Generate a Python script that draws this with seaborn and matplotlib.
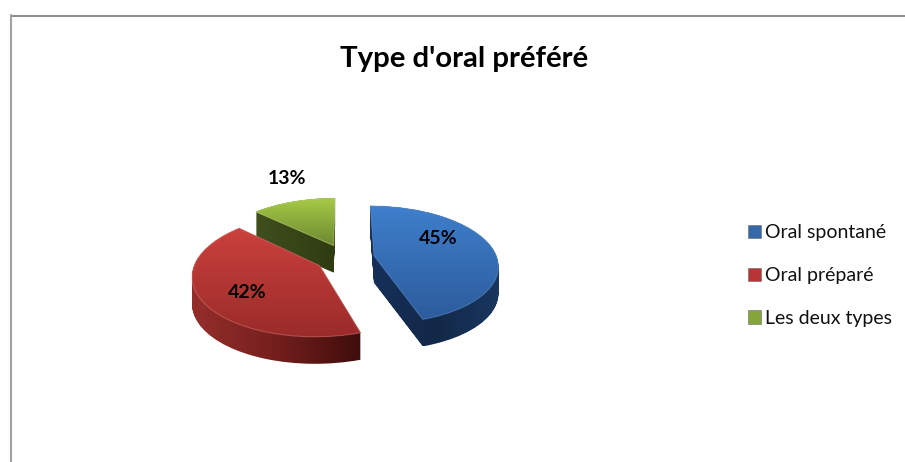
import matplotlib
matplotlib.use("Agg")
import matplotlib.pyplot as plt
import numpy as np
import seaborn as sns
from matplotlib.patches import Patch, PathPatch
from matplotlib.path import Path
from matplotlib.transforms import Transform

categories = ["Oral spontané", "Oral préparé", "Les deux types"]
shares = [45, 42, 13]
title = "Type d'oral préféré"

top_colors = [["#3f7fcc", "#2c5c9c"], ["#cb413d", "#992b29"], ["#a6ca46", "#6c8832"]]
side_colors = [["#16305a", "#122848", "#193760"], ["#962f2c", "#751f1d", "#3e0d0b"], ["#404f1e", "#2e3b10"]]
rim_colors = ["#6f9ad2", "#e88a86", "#cfe08f"]
legend_colors = ["#3568a8", "#b83533", "#83a53a"]
label_pos = [(438.5, 239), (247, 292.5), (287.5, 178.5)]


# tilts the flat pie, the far side gets smaller
class Tilt(Transform):
    input_dims = 2
    output_dims = 2
    is_separable = False

    def transform_non_affine(self, values):
        values = np.asarray(values, dtype=float)
        w = 1 + 0.15 * values[:, 1]
        return np.column_stack([345 + 123 * values[:, 0] / w, 258 - 58 * values[:, 1] / w])


sns.set_theme(style="white")
plt.rcParams["font.family"] = ["Lato", "DejaVu Sans"]

fig = plt.figure(figsize=(9.05, 4.62), dpi=100, facecolor="white")
ax = fig.add_axes([0, 0, 1, 1])

wedges, _ = ax.pie(shares, explode=[0.24] * 3, startangle=90, counterclock=False, frame=True,
                   colors=[c[1] for c in top_colors], wedgeprops={"linewidth": 0})
tilt = Tilt()
depth = 27

# back slice first so the nearer ones sit on top
for z, i in enumerate([2, 1, 0]):
    w = wedges[i]
    w.set_transform(tilt + ax.transData)
    w.set_zorder(2 + 2 * z + 0.2)
    flat = tilt.transform_path(w.get_path())

    layers = [Path(flat.vertices + [0, d], flat.codes) for d in range(depth + 1)]
    side = Path.make_compound_path(*layers)
    x0, y0 = side.vertices.min(axis=0)
    x1, y1 = side.vertices.max(axis=0)
    side_img = ax.imshow(np.linspace(0, 1, 256).reshape(1, -1), extent=(x0, x1, y1, y0), aspect="auto",
                         cmap=sns.blend_palette(side_colors[i], as_cmap=True), zorder=2 + 2 * z)
    side_img.set_clip_path(side, transform=ax.transData)

    top_img = ax.imshow(np.linspace(0, 1, 256).reshape(-1, 1),
                        extent=(flat.vertices[:, 0].min(), flat.vertices[:, 0].max(),
                                flat.vertices[:, 1].max(), flat.vertices[:, 1].min()),
                        aspect="auto", cmap=sns.blend_palette(top_colors[i], as_cmap=True),
                        zorder=2 + 2 * z + 0.4)
    top_img.set_clip_path(flat, transform=ax.transData)
    ax.add_patch(PathPatch(flat, facecolor="none", edgecolor=rim_colors[i], linewidth=0.8, alpha=0.4,
                           zorder=2 + 2 * z + 0.6))

ax.set_aspect("auto")
ax.set_xlim(0, 905)
ax.set_ylim(462, 0)
ax.axis("off")

# chart frame, cut off by the crop on the right and at the bottom
ax.plot([10.5, 905], [15.5, 15.5], color="#8e8e8e", lw=1.5, zorder=1)
ax.plot([10.5, 10.5], [462, 15], color="#a2a2a2", lw=1.5, zorder=1)

ax.text(464, 58.5, title, ha="center", va="center", fontsize=21.2, fontweight="bold", color="black", zorder=20)
for share, (x, y) in zip(shares, label_pos):
    ax.text(x, y, f"{share}%", ha="center", va="center", fontsize=14, fontweight="bold", color="black", zorder=20)

handles = [Patch(facecolor=c, edgecolor="#55555588", linewidth=0.6) for c in legend_colors]
ax.legend(handles, categories, loc="center left", bbox_to_anchor=(748 / 905, 1 - 275.5 / 462), frameon=False,
          fontsize=14, handlelength=0.67, handleheight=0.67, handletextpad=0.2, labelspacing=1.33,
          borderpad=0, borderaxespad=0, labelcolor="#111111")

fig.savefig("out.png", dpi=100)
